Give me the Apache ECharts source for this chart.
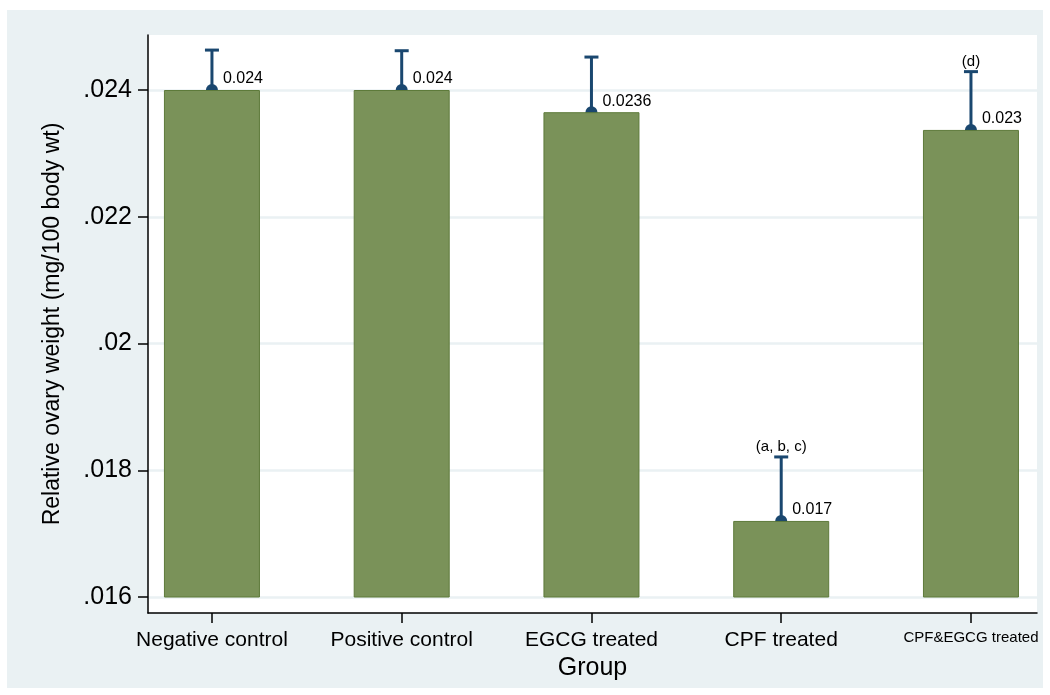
<!DOCTYPE html>
<html>
<head>
<meta charset="utf-8">
<script src="https://cdn.jsdelivr.net/npm/echarts@6/dist/echarts.min.js"></script>
<style>
html, body { margin: 0; padding: 0; background: #fff; }
#chart { width: 1050px; height: 695px; }
</style>
</head>
<body>
<div id="chart"></div>
<script>
// data
var groups = ['Negative control', 'Positive control', 'EGCG treated', 'CPF treated', 'CPF&EGCG treated'];
var means = [0.02400, 0.02400, 0.02365, 0.01720, 0.02337];
var upper = [0.02463, 0.02462, 0.02452, 0.01821, 0.02429];
var valueLabels = ['0.024', '0.024', '0.0236', '0.017', '0.023'];
var sigLabels = ['', '', '', '(a, b, c)', '(d)'];
var yTicks = [0.016, 0.018, 0.020, 0.022, 0.024];
var xTicks = [0, 1, 2, 3, 4];

var chart = echarts.init(document.getElementById('chart'));

var barColor = '#7a9259';
var errColor = '#1a476f';
var bg = '#eaf1f3';
var font = '"Liberation Sans", Arial, sans-serif';

var barData = means.map(function (v, i) { return [i, v]; });
var errData = means.map(function (v, i) { return [i, v, upper[i]]; });

var option = {
    animation: false,
    textStyle: { fontFamily: font, color: '#000' },
    graphic: [
        // outer light panel
        { type: 'rect', z: -10, shape: { x: 7, y: 10, width: 1036, height: 678 }, style: { fill: bg } },
        // white plot area
        { type: 'rect', z: -9, shape: { x: 148, y: 35, width: 889, height: 578 }, style: { fill: '#fff' } }
    ],
    grid: [
        // bars + ticks (bottom at .016)
        { left: 148, right: 13, top: 35, bottom: 98 },
        // full plot frame for the y axis line
        { left: 148, right: 13, top: 35, bottom: 82 }
    ],
    xAxis: [{
        gridIndex: 0,
        type: 'value',
        min: -0.337,
        max: 4.348,
        offset: 16,
        splitLine: { show: false },
        axisLine: { show: true, onZero: false, lineStyle: { color: '#000', width: 1.5 } },
        axisTick: { show: true, customValues: xTicks, length: 10, lineStyle: { color: '#000', width: 1.5 } },
        axisLabel: {
            customValues: xTicks,
            margin: 17,
            fontSize: 21,
            color: '#000',
            fontFamily: font,
            formatter: function (v) {
                var i = Math.round(v);
                return i === 4 ? '{s|' + groups[i] + '}' : groups[i];
            },
            rich: { s: { fontSize: 15, fontFamily: font, color: '#000' } }
        },
        name: 'Group',
        nameLocation: 'middle',
        nameGap: 37,
        nameTextStyle: { fontSize: 25, color: '#000', fontFamily: font }
    }, {
        gridIndex: 1,
        type: 'value',
        show: false
    }],
    yAxis: [{
        gridIndex: 0,
        type: 'value',
        min: 0.016,
        max: 0.024868,
        axisLine: { show: false, onZero: false },
        axisTick: { show: true, customValues: yTicks, length: 10, lineStyle: { color: '#000', width: 1.5 } },
        axisLabel: {
            customValues: yTicks,
            margin: 16,
            fontSize: 25,
            color: '#000',
            fontFamily: font,
            formatter: function (v) { return String(+v.toFixed(3)).replace(/^0/, ''); }
        },
        splitLine: { show: true, lineStyle: { color: bg, width: 2.5 } }
    }, {
        gridIndex: 1,
        type: 'value',
        min: 0,
        max: 1,
        axisLine: { show: true, onZero: false, lineStyle: { color: '#000', width: 1.5 } },
        axisTick: { show: false },
        axisLabel: { show: false },
        splitLine: { show: false },
        name: 'Relative ovary weight (mg/100 body wt)',
        nameLocation: 'middle',
        nameGap: 84,
        nameTextStyle: { fontSize: 23, color: '#000', fontFamily: font }
    }],
    series: [{
        type: 'custom',
        xAxisIndex: 0,
        yAxisIndex: 0,
        z: 1,
        data: errData,
        renderItem: function (params, api) {
            var i = api.value(0);
            var p0 = api.coord([i, api.value(1)]);
            var p1 = api.coord([i, api.value(2)]);
            var idx = params.dataIndex;
            var ls = { stroke: errColor, lineWidth: 3 };
            return {
                type: 'group',
                children: [
                    { type: 'line', shape: { x1: p0[0], y1: p0[1], x2: p1[0], y2: p1[1] }, style: ls },
                    { type: 'line', shape: { x1: p1[0] - 7, y1: p1[1], x2: p1[0] + 7, y2: p1[1] }, style: ls },
                    { type: 'circle', shape: { cx: p0[0], cy: p0[1], r: 6 }, style: { fill: errColor } },
                    { type: 'text', x: p0[0] + 11, y: p0[1] - 11, style: {
                        text: valueLabels[idx], fill: '#000', font: '16px ' + font,
                        align: 'left', verticalAlign: 'middle' } },
                    { type: 'text', x: p1[0], y: p1[1] - 10, style: {
                        text: sigLabels[idx], fill: '#000', font: '15px ' + font,
                        align: 'center', verticalAlign: 'middle' } }
                ]
            };
        }
    }, {
        type: 'bar',
        xAxisIndex: 0,
        yAxisIndex: 0,
        z: 2,
        barWidth: 96,
        data: barData,
        itemStyle: { color: barColor, borderColor: '#5d7a3a', borderWidth: 1 }
    }]
};

chart.setOption(option);
</script>
</body>
</html>
